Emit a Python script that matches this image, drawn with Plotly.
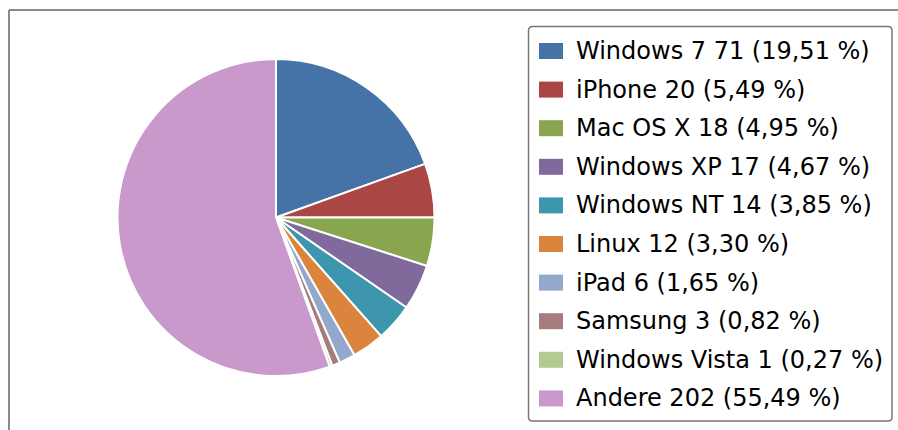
import plotly.graph_objects as go

labels = ["Windows 7", "iPhone", "Mac OS X", "Windows XP", "Windows NT",
          "Linux", "iPad", "Samsung", "Windows Vista", "Andere"]
values = [71, 20, 18, 17, 14, 12, 6, 3, 1, 202]
colors = ["#4572A7", "#AA4643", "#89A54E", "#80699B", "#3D96AE",
          "#DB843D", "#92A8CD", "#A47D7C", "#B5CA92", "#C999CB"]

W, H = 898, 430
def px(x): return x / W
def py(y): return 1 - y / H

total = sum(values)
legend_texts = [f"{l} {v} ({v / total * 100:.2f} %)".replace(".", ",")
                for l, v in zip(labels, values)]

fig = go.Figure(go.Pie(
    labels=labels, values=values, sort=False, direction="clockwise",
    rotation=0, textinfo="none", hoverinfo="label+value+percent",
    marker=dict(colors=colors, line=dict(color="white", width=2)),
    domain=dict(x=[px(117.5), px(434.5)], y=[py(376), py(59)]),
    showlegend=False,
))

shapes = []
# outer frame (partially cropped)
shapes.append(dict(type="line", xref="paper", yref="paper",
                   x0=px(9), x1=px(9), y0=py(10), y1=0,
                   line=dict(color="#8a8a8a", width=2)))
shapes.append(dict(type="line", xref="paper", yref="paper",
                   x0=px(9), x1=1, y0=py(10), y1=py(10),
                   line=dict(color="#8a8a8a", width=2)))
# legend box with rounded corners
x0, x1, y0, y1, r = 528.5, 892, 26.5, 421, 4
path = (f"M{px(x0 + r)},{py(y0)} L{px(x1 - r)},{py(y0)} Q{px(x1)},{py(y0)} {px(x1)},{py(y0 + r)} "
        f"L{px(x1)},{py(y1 - r)} Q{px(x1)},{py(y1)} {px(x1 - r)},{py(y1)} "
        f"L{px(x0 + r)},{py(y1)} Q{px(x0)},{py(y1)} {px(x0)},{py(y1 - r)} "
        f"L{px(x0)},{py(y0 + r)} Q{px(x0)},{py(y0)} {px(x0 + r)},{py(y0)} Z")
shapes.append(dict(type="path", xref="paper", yref="paper", path=path,
                   line=dict(color="#777777", width=1.5), fillcolor="white"))

annotations = []
row0, step = 51, 38.6
for i, (t, c) in enumerate(zip(legend_texts, colors)):
    cy = row0 + i * step
    shapes.append(dict(type="rect", xref="paper", yref="paper",
                       x0=px(539), x1=px(563), y0=py(cy + 8), y1=py(cy - 8),
                       line=dict(width=0), fillcolor=c))
    annotations.append(dict(xref="paper", yref="paper", x=px(574), y=py(cy),
                            xanchor="left", yanchor="middle", showarrow=False,
                            text=t, font=dict(family="DejaVu Sans", size=24, color="#000000")))

fig.update_layout(
    width=W, height=H, margin=dict(l=0, r=0, t=0, b=0),
    paper_bgcolor="white", plot_bgcolor="white",
    shapes=shapes, annotations=annotations,
)
fig.write_html("out.html", config={"displayModeBar": False},
               post_script="document.body.style.margin='0';document.body.style.overflow='hidden';")
